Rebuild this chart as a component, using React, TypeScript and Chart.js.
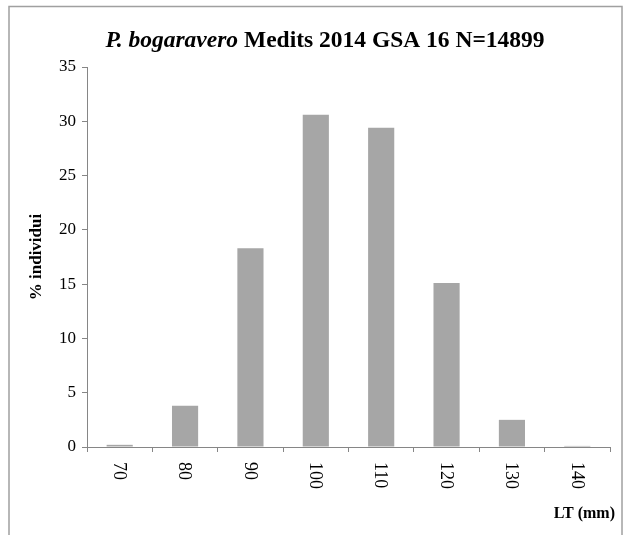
import React, { useEffect, useRef } from "react";
import { Chart, registerables } from "chart.js";

Chart.register(...registerables);

const categories = ["70", "80", "90", "100", "110", "120", "130", "140"];
const percentValues = [0.2, 3.8, 18.3, 30.6, 29.4, 15.1, 2.5, 0.1];
const yMax = 35;
const yStep = 5;
const titleItalic = "P. bogaravero";
const titleRest = " Medits 2014 GSA 16 N=14899";
const yTitle = "% individui";
const xTitle = "LT (mm)";

const FONT = "'Liberation Serif', 'Times New Roman', serif";
const AXIS = "#868686";

const decorPlugin = {
  id: "decor",
  afterDraw(chart: any) {
    const ctx = chart.ctx as CanvasRenderingContext2D;
    const xs = chart.scales.x;
    ctx.save();
    // outer frame
    ctx.strokeStyle = "#a0a0a0";
    ctx.lineWidth = 1.5;
    ctx.strokeRect(9, 6.5, 613, 560);

    // title with mixed fonts
    ctx.fillStyle = "#000";
    ctx.textBaseline = "alphabetic";
    ctx.textAlign = "left";
    const fi = `italic bold 23.5px ${FONT}`;
    const fb = `bold 23.5px ${FONT}`;
    ctx.font = fi;
    const w1 = ctx.measureText(titleItalic).width;
    ctx.font = fb;
    const w2 = ctx.measureText(titleRest).width;
    const cx = 325;
    const tx = cx - (w1 + w2) / 2;
    ctx.font = fi;
    ctx.fillText(titleItalic, tx, 47);
    ctx.font = fb;
    ctx.fillText(titleRest, tx + w1, 47);

    // y title
    ctx.save();
    ctx.translate(37, (chart.chartArea.top + chart.chartArea.bottom) / 2);
    ctx.rotate(-Math.PI / 2);
    ctx.font = `bold 17px ${FONT}`;
    ctx.textAlign = "center";
    ctx.textBaseline = "middle";
    ctx.fillText(yTitle, 0, 0);
    ctx.restore();

    // x labels rotated clockwise
    ctx.font = `18px ${FONT}`;
    categories.forEach((c, i) => {
      const x = xs.getPixelForValue(i);
      ctx.save();
      ctx.translate(x - 1, 462);
      ctx.rotate(Math.PI / 2);
      ctx.textAlign = "left";
      ctx.textBaseline = "middle";
      ctx.fillText(c, 0, 0);
      ctx.restore();
    });

    // x title
    ctx.font = `bold 16px ${FONT}`;
    ctx.textAlign = "right";
    ctx.textBaseline = "middle";
    ctx.fillText(xTitle, 615, 514);
    ctx.restore();
  },
};

export default function App() {
  const ref = useRef<HTMLCanvasElement | null>(null);
  useEffect(() => {
    if (!ref.current) return;
    const chart = new Chart(ref.current, {
      type: "bar",
      data: {
        labels: categories,
        datasets: [
          {
            data: percentValues,
            backgroundColor: "#a6a6a6",
            borderWidth: 0,
            categoryPercentage: 1,
            barPercentage: 0.4,
          },
        ],
      },
      options: {
        animation: false,
        responsive: false,
        devicePixelRatio: 1,
        layout: { padding: { top: 67, right: 20, left: 0, bottom: 0 } },
        plugins: {
          legend: { display: false },
          title: { display: false },
          tooltip: { enabled: false },
        },
        scales: {
          x: {
            offset: true,
            grid: {
              offset: true,
              drawOnChartArea: false,
              drawTicks: true,
              tickLength: 5,
              color: AXIS,
            },
            border: { color: AXIS, width: 1 },
            ticks: { display: false },
            afterFit: (s: any) => {
              s.height = 88;
            },
          },
          y: {
            min: 0,
            max: yMax,
            ticks: {
              stepSize: yStep,
              color: "#000",
              font: { family: FONT, size: 17 },
              padding: 6,
            },
            grid: {
              drawOnChartArea: false,
              drawTicks: true,
              tickLength: 5,
              color: AXIS,
            },
            border: { color: AXIS, width: 1 },
            afterFit: (s: any) => {
              s.width = 87;
            },
          },
        },
      },
      plugins: [decorPlugin],
    });
    return () => chart.destroy();
  }, []);
  return (
    <div style={{ position: "absolute", left: 0, top: 0, width: 630, height: 535 }}>
      <canvas ref={ref} width={630} height={535} style={{ display: "block", background: "#fff" }} />
    </div>
  );
}
